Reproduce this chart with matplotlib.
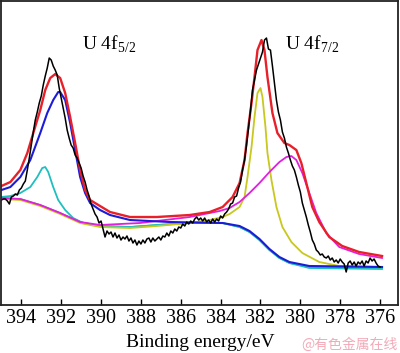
import numpy as np
import matplotlib
matplotlib.use('Agg')
import matplotlib.pyplot as plt

plt.rcParams['font.family'] = ['Liberation Serif', 'DejaVu Serif']
plt.rcParams['mathtext.fontset'] = 'custom'
plt.rcParams['mathtext.rm'] = 'Liberation Serif'

# raw spectrum, 0.1 eV steps from 395.0 down to 376.0 eV
energy = np.round(np.arange(395.0, 375.95, -0.1), 1)
raw = [105, 106, 106, 104, 101, 108, 109, 111, 110, 115,
       117, 121, 124, 135, 147, 160, 173, 185, 193, 202,
       209, 220, 229, 237, 247, 245, 239, 235, 230, 217,
       207, 197, 187, 175, 167, 160, 157, 150, 147, 142,
       137, 129, 123, 115, 109, 101, 96, 91, 88, 82,
       84, 76, 68, 74, 71, 73, 68, 72, 67, 70,
       65, 68, 66, 69, 64, 67, 62, 65, 60, 64,
       61, 65, 62, 66, 67, 63, 67, 64, 66, 68,
       65, 69, 68, 72, 69, 74, 72, 76, 74, 78,
       77, 81, 79, 83, 81, 84, 82, 86, 88, 85,
       87, 84, 87, 83, 85, 82, 86, 83, 86, 84,
       89, 87, 91, 93, 96, 101, 102, 108, 109, 117,
       123, 135, 145, 160, 177, 195, 215, 225, 235, 241,
       247, 253, 265, 267, 256, 255, 239, 222, 205, 193,
       185, 173, 167, 158, 152, 145, 139, 135, 128, 120,
       113, 102, 95, 88, 80, 73, 65, 61, 55, 53,
       50, 51, 48, 47, 49, 45, 47, 43, 45, 42,
       46, 43, 41, 33, 42, 44, 40, 43, 39, 43,
       41, 44, 39, 44, 42, 47, 44, 46, 42, 39,
       38]

# fitted envelope
fit_e = [395.0, 394.55, 394.05, 393.7, 393.4, 393.05, 392.8, 392.55, 392.3, 392.05,
         391.8, 391.55, 391.3, 391.05, 390.8, 390.55, 390.05, 389.55, 388.55, 387.2,
         385.55, 384.55, 383.9, 383.4, 383.05, 382.8, 382.65, 382.45, 382.3, 382.15,
         381.95, 381.8, 381.65, 381.4, 381.15, 380.8, 380.55, 380.2, 379.95, 379.7,
         379.4, 379.05, 378.55, 377.9, 377.05, 375.9]
fit_i = [119, 123, 135, 152, 172, 195, 215, 227, 231, 227,
         212, 188, 162, 135, 115, 105, 99, 93, 88, 88,
         90, 93, 98, 108, 122, 145, 172, 202, 228, 255,
         265, 255, 228, 192, 172, 162, 160, 155, 142, 122,
         98, 83, 68, 59, 53, 49]

# U 4f5/2 main peak + background
p1_e = [395.0, 394.55, 394.05, 393.55, 393.05, 392.7, 392.4, 392.15, 392.05, 391.8,
        391.55, 391.3, 391.05, 390.8, 390.55, 390.05, 389.55, 388.55, 386.55, 383.9,
        383.05, 382.55, 382.05, 381.55, 381.05, 380.55, 379.55, 375.9]
p1_i = [115, 118, 128, 145, 172, 192, 205, 213, 213, 205,
        182, 155, 128, 112, 102, 95, 90, 85, 83, 82,
        79, 74, 66, 56, 48, 43, 39, 38]

# background
bg_e = [395.0, 394.05, 393.05, 392.05, 391.05, 390.05, 388.55, 387.2, 385.55, 383.9,
        383.05, 382.55, 382.05, 381.55, 381.05, 380.55, 379.55, 375.9]
bg_i = [107, 106, 100, 92, 83, 79, 78, 80, 82, 82,
        78, 73, 65, 55, 47, 42, 38, 37]

# U 4f5/2 satellite
p2_e = [395.0, 394.55, 394.05, 393.55, 393.2, 392.95, 392.8, 392.65, 392.4, 392.15,
        391.8, 391.4, 390.9, 390.05, 388.55, 387.2, 385.55, 383.9, 383.05, 382.55,
        382.05, 381.55, 381.05, 380.55, 379.55, 375.9]
p2_i = [108, 109, 112, 118, 128, 137, 138, 133, 118, 105,
        95, 87, 82, 79, 78, 80, 82, 82, 78, 73,
        65, 55, 47, 42, 37, 36]

# U 4f7/2 main peak
p3_e = [395.0, 394.05, 393.05, 392.05, 391.05, 390.05, 388.55, 387.2, 385.55, 384.55,
        383.9, 383.55, 383.05, 382.8, 382.65, 382.45, 382.3, 382.15, 382.0, 381.9,
        381.75, 381.65, 381.45, 381.2, 380.9, 380.45, 379.9, 379.05, 378.05, 375.9]
p3_i = [106, 105, 99, 91, 82, 78, 77, 79, 82, 85,
        88, 91, 98, 108, 128, 158, 188, 212, 217, 208,
        178, 152, 125, 98, 78, 63, 52, 43, 39, 38]

# U 4f7/2 satellite
p4_e = [395.0, 394.05, 393.05, 392.05, 391.05, 390.05, 388.05, 385.55, 384.05, 383.55,
        383.05, 382.55, 382.05, 381.55, 381.05, 380.7, 380.45, 380.2, 379.9, 379.55,
        379.2, 378.7, 378.05, 377.05, 375.9]
p4_i = [107, 106, 100, 92, 83, 80, 82, 88, 94, 97,
        103, 112, 122, 133, 143, 148, 149, 145, 132, 112,
        92, 72, 58, 51, 47]

fig = plt.figure(figsize=(4, 3.53), dpi=100)
ax = fig.add_axes([0.0035, 0.136, 0.9915, 0.861])

ax.plot(bg_e, bg_i, color='#3cb44b', lw=1.2)
ax.plot(p2_e, p2_i, color='#1fbfbf', lw=1.3)
ax.plot(p3_e, p3_i, color='#c8c81e', lw=1.3)
ax.plot(p4_e, p4_i, color='#e020e0', lw=1.3)
ax.plot(p1_e, p1_i, color='#1c1cd8', lw=1.5)
ax.plot(fit_e, fit_i, color='#e8202a', lw=1.7)
ax.plot(energy, raw, color='black', lw=1.1)

ax.set_xlim(395.0, 375.1)
ax.set_ylim(0, 304)
ax.set_xticks(np.arange(394, 375, -2))
ax.set_yticks([])
ax.tick_params(axis='x', direction='in', length=4, width=1, labelsize=14.5, pad=3)
for s in ax.spines.values():
    s.set_linewidth(1.3)
    s.set_color('#222222')

ax.text(390.94, 255, 'U 4f$_{5/2}$', fontsize=14, ha='left', va='baseline')
ax.text(380.76, 255, 'U 4f$_{7/2}$', fontsize=14, ha='left', va='baseline')

fig.text(0.5, 0.017, 'Binding energy/eV', fontsize=14, ha='center', va='baseline')
fig.text(0.995, 0.013, '@有色金属在线', fontsize=10, color='#f2aab8', ha='right', va='baseline',
         family=['Noto Sans CJK SC', 'DejaVu Sans'])

fig.savefig('out.png', dpi=100)
